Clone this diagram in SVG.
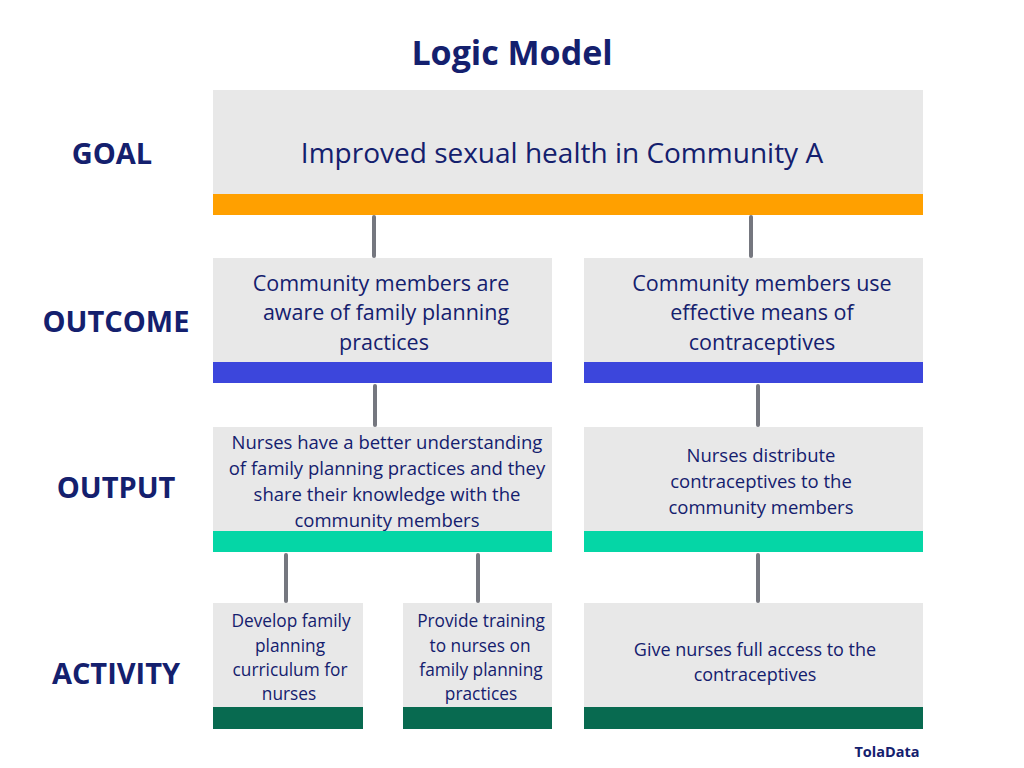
<svg xmlns="http://www.w3.org/2000/svg" width="1024" height="768" viewBox="0 0 1024 768">
<style>
.box{fill:#e8e8e8}
.t{font-family:"Open Sans","Liberation Sans",sans-serif;fill:#14206e;text-anchor:middle}
.lbl{font-family:"Open Sans","Liberation Sans",sans-serif;fill:#14206e;font-weight:700;font-size:29px;text-anchor:middle}
.c{stroke:#75777f;stroke-width:4;stroke-linecap:round;fill:none}
</style>
<rect width="1024" height="768" fill="#ffffff"/>
<text x="512" y="65" class="t" font-size="34" font-weight="700" fill="#121e6b">Logic Model</text>
<text x="112" y="164" class="lbl">GOAL</text>
<text x="116" y="332" class="lbl">OUTCOME</text>
<text x="116" y="498" class="lbl">OUTPUT</text>
<text x="116" y="684" class="lbl">ACTIVITY</text>
<g id="connectors">
<line class="c" x1="374" y1="217" x2="374" y2="256"/>
<line class="c" x1="751" y1="217" x2="751" y2="256"/>
<line class="c" x1="375" y1="386" x2="375" y2="425"/>
<line class="c" x1="758" y1="386" x2="758" y2="425"/>
<line class="c" x1="286" y1="555" x2="286" y2="601"/>
<line class="c" x1="478" y1="555" x2="478" y2="601"/>
<line class="c" x1="758" y1="555" x2="758" y2="601"/>
</g>
<g id="goal">
<rect class="box" x="213" y="90" width="710" height="104"/>
<rect x="213" y="194" width="710" height="21" fill="#ffa000"/>
<text x="562" y="163" class="t" font-size="28">Improved sexual health in Community A</text>
</g>
<g id="outcome1">
<rect class="box" x="213" y="258" width="339" height="104"/>
<rect x="213" y="362" width="339" height="21" fill="#3c46dc"/>
<text class="t" font-size="21.5"><tspan x="381" y="291">Community members are</tspan><tspan x="386" y="320">aware of family planning</tspan><tspan x="384" y="350">practices</tspan></text>
</g>
<g id="outcome2">
<rect class="box" x="584" y="258" width="339" height="104"/>
<rect x="584" y="362" width="339" height="21" fill="#3c46dc"/>
<text class="t" font-size="21.5"><tspan x="762" y="291">Community members use</tspan><tspan x="762" y="320">effective means of</tspan><tspan x="762" y="350">contraceptives</tspan></text>
</g>
<g id="output1">
<rect class="box" x="213" y="427" width="339" height="104"/>
<rect x="213" y="531" width="339" height="21" fill="#05d6a6"/>
<text class="t" font-size="18.5"><tspan x="387" y="449">Nurses have a better understanding</tspan><tspan x="387" y="475">of family planning practices and they</tspan><tspan x="387" y="501">share their knowledge with the</tspan><tspan x="387" y="527">community members</tspan></text>
</g>
<g id="output2">
<rect class="box" x="584" y="427" width="339" height="104"/>
<rect x="584" y="531" width="339" height="21" fill="#05d6a6"/>
<text class="t" font-size="18.5"><tspan x="761" y="462">Nurses distribute</tspan><tspan x="761" y="488">contraceptives to the</tspan><tspan x="761" y="514">community members</tspan></text>
</g>
<g id="activity1">
<rect class="box" x="213" y="603" width="150" height="104"/>
<rect x="213" y="707" width="150" height="22" fill="#086a50"/>
<text class="t" font-size="17.3"><tspan x="291" y="627">Develop family</tspan><tspan x="290" y="652">planning</tspan><tspan x="290" y="676">curriculum for</tspan><tspan x="289" y="700">nurses</tspan></text>
</g>
<g id="activity2">
<rect class="box" x="403" y="603" width="149" height="104"/>
<rect x="403" y="707" width="149" height="22" fill="#086a50"/>
<text class="t" font-size="17.3"><tspan x="481" y="627">Provide training</tspan><tspan x="480" y="652">to nurses on</tspan><tspan x="481" y="676">family planning</tspan><tspan x="481" y="700">practices</tspan></text>
</g>
<g id="activity3">
<rect class="box" x="584" y="603" width="339" height="104"/>
<rect x="584" y="707" width="339" height="22" fill="#086a50"/>
<text class="t" font-size="18"><tspan x="755" y="656">Give nurses full access to the</tspan><tspan x="755" y="681">contraceptives</tspan></text>
</g>
<text x="887" y="757" class="t" font-size="14.5" font-weight="700" fill="#1a2250">TolaData</text>
</svg>
